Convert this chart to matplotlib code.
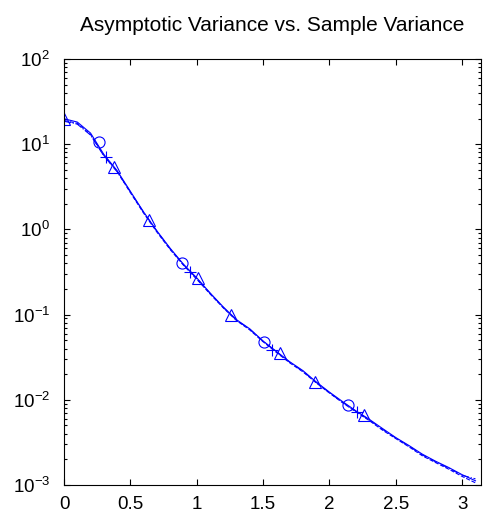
import numpy as np
from matplotlib import pyplot as plt

plt.rcParams['font.family'] = ['Liberation Sans', 'DejaVu Sans']
plt.rcParams['mathtext.default'] = 'regular'

# curve values (log y axis)
x_curve = [0.0, 0.1, 0.2, 0.3, 0.4, 0.5, 0.6, 0.7, 0.8, 0.9, 1.0, 1.1, 1.2, 1.3,
           1.4, 1.5, 1.6, 1.7, 1.8, 1.9, 2.0, 2.1, 2.2, 2.3, 2.4, 2.5, 2.6, 2.7,
           2.8, 2.9, 3.0, 3.1]
y_true = [19.9, 18.2, 13.5, 7.6, 4.9, 2.8, 1.6, 0.96, 0.60, 0.39, 0.27, 0.18,
          0.123, 0.087, 0.068, 0.049, 0.037, 0.028, 0.022, 0.0162, 0.0123,
          0.0095, 0.0074, 0.0059, 0.0046, 0.0036, 0.0029, 0.0023, 0.0019,
          0.0016, 0.00132, 0.00112]
y_est1 = [19.0, 17.6, 13.0, 7.4, 4.8, 2.7, 1.55, 0.93, 0.58, 0.38, 0.26, 0.175,
          0.120, 0.085, 0.066, 0.048, 0.036, 0.0272, 0.0213, 0.0158, 0.0120,
          0.0092, 0.0072, 0.0057, 0.0044, 0.0035, 0.0028, 0.0022, 0.00183,
          0.00153, 0.00126, 0.00106]
y_est2 = [18.6, 17.2, 12.8, 7.3, 4.75, 2.75, 1.58, 0.95, 0.59, 0.385, 0.265,
          0.178, 0.121, 0.086, 0.067, 0.0485, 0.0365, 0.0276, 0.0216, 0.016,
          0.0121, 0.0093, 0.0073, 0.0058, 0.0045, 0.00355, 0.00285, 0.00225,
          0.00187, 0.00157, 0.0013, 0.00118]

# marker series
x_circ = [0.26, 0.89, 1.51, 2.14]
y_circ = [10.6, 0.40, 0.048, 0.0087]
x_plus = [0.32, 0.95, 1.57, 2.21]
y_plus = [7.1, 0.32, 0.038, 0.0072]
x_tri1 = [0.0, 0.64, 1.26, 1.89]
y_tri1 = [19.5, 1.29, 0.099, 0.0163]
x_tri2 = [0.38, 1.01, 1.63, 2.26]
y_tri2 = [5.4, 0.267, 0.035, 0.0066]

xticks = [0, 0.5, 1, 1.5, 2, 2.5, 3]
xticklabels = ['0', '0.5', '1', '1.5', '2', '2.5', '3']

fig = plt.figure(figsize=(4.83, 5.18), dpi=100)
ax = fig.add_axes([64 / 483, 1 - 485 / 518, 417 / 483, 426 / 518])

blue = (0, 0, 1)
ax.semilogy(x_curve, y_true, '-', color=blue, lw=0.8)
ax.semilogy(x_curve, y_est1, '--', color=blue, lw=0.8)
ax.semilogy(x_curve, y_est2, '-.', color=blue, lw=0.8)
ax.semilogy(x_circ, y_circ, 'o', color=blue, mfc='none', ms=8, mew=0.8)
ax.semilogy(x_plus, y_plus, '+', color=blue, ms=8, mew=0.8)
ax.semilogy(x_tri1, y_tri1, '^', color=blue, mfc='none', ms=8, mew=0.8)
ax.semilogy(x_tri2, y_tri2, '^', color=blue, mfc='none', ms=8, mew=0.8)

ax.set_xlim(0, np.pi)
ax.set_ylim(1e-3, 1e2)
ax.set_xticks(xticks)
ax.set_xticklabels(xticklabels)
ax.tick_params(which='both', direction='in', top=True, right=True,
               labelsize=13.5, width=0.8)
ax.tick_params(which='major', length=4)
ax.tick_params(which='minor', length=2)
ax.tick_params(axis='x', pad=8)
ax.tick_params(axis='y', pad=10)
for s in ax.spines.values():
    s.set_linewidth(0.8)

ax.set_title('Asymptotic Variance vs. Sample Variance', fontsize=15, pad=20)

fig.savefig('out.png', dpi=100)
